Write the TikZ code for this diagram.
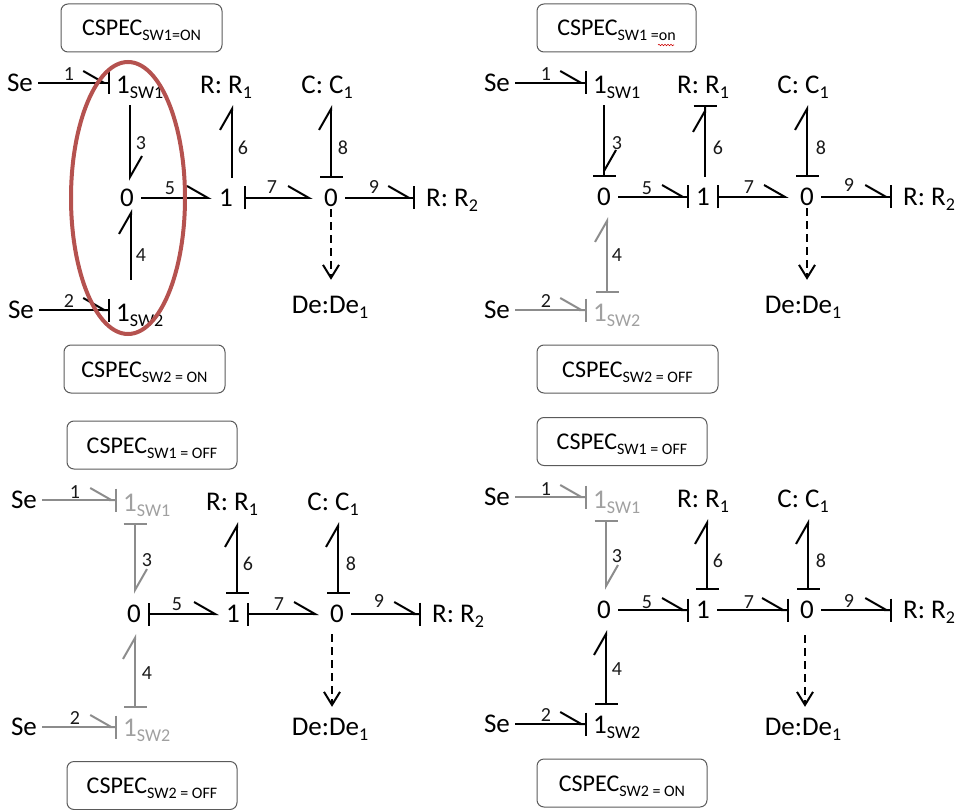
\documentclass[tikz,border=0pt]{standalone}
\usepackage{fontspec}
\setmainfont{Carlito}
\usetikzlibrary{arrows.meta,decorations.pathmorphing}
\definecolor{offline}{HTML}{8C8C8C}
\definecolor{offtext}{HTML}{A0A0A0}
\definecolor{ringred}{HTML}{B5524F}
\definecolor{boxline}{HTML}{5A5A5A}
\def\subt#1{\raisebox{-5pt}{\fontsize{18}{18}\selectfont #1}}
\def\subb#1{\raisebox{-5pt}{\fontsize{16}{16}\selectfont #1}}
\def\barb{Straight Barb[harpoon,length=21pt,width=24pt]}
\def\stroke{Bar[width=23pt]}
\tikzset{
	element/.style={inner sep=0pt,text height=28.5pt,text depth=11.5pt,font=\fontsize{27}{27}\selectfont},
	source/.style={element,inner xsep=5pt},
	junction/.style={element,minimum width=28pt},
	switch/.style={element,anchor=west,inner xsep=6pt},
	resist/.style={element,anchor=west,inner xsep=11pt},
	num/.style={inner sep=0pt,text=black!90,font=\fontsize{20}{20}\selectfont},
	cspec/.style={draw=boxline,line width=1pt,rounded corners=7pt,minimum height=48pt,inner sep=0pt,
		text height=20pt,text depth=4pt,font=\fontsize{24}{24}\selectfont},
	bond/.style={line width=2pt,-{\barb}},
	bondend/.style={line width=2pt,-{\barb\stroke}},
	bondstart/.style={line width=2pt,{\stroke}-{\barb}},
	detect/.style={line width=2pt,dash pattern=on 8pt off 5pt,-{Straight Barb[length=13pt,width=16pt]}},
	off/.style={draw=offline},
	offnode/.style={text=offtext}
}
\begin{document}
\begin{tikzpicture}[x=1pt,y=-1pt]
	\useasboundingbox (0,0) rectangle (963,810);

	% Both switches on
	\begin{scope}[name prefix=a-]
		\node[cspec,minimum width=161pt] (top) at (141.5,28) {CSPEC\subb{SW1=ON}};
		\node[cspec,minimum width=161pt] (bottom) at (144.5,369) {CSPEC\subb{SW2 = ON}};
		\node[source] (se1) at (20,83) {Se};
		\node[source] (se2) at (21,310) {Se};
		\node[switch] (sw1) at (110,85) {1\subt{SW1}};
		\node[switch] (sw2) at (110,313) {1\subt{SW2}};
		\node[junction] (zeroa) at (127,198) {0};
		\node[junction] (one) at (226,198) {1};
		\node[junction] (zerob) at (331,198) {0};
		\node[element] (r1) at (226,85) {R: R\subt{1}};
		\node[element] (c1) at (327,85) {C: C\subt{1}};
		\node[resist] (r2) at (415,198) {R: R\subt{2}};
		\node[element] (de) at (330,305) {De:De\subt{1}};
		% Bonds
		\draw[bondend] (se1.east) -- (se1.east -| sw1.west);
		\draw[bondend] (se2.east) -- (se2.east -| sw2.west);
		\draw[bond,shorten >=-3pt] ([xshift=3pt]zeroa.north |- sw1.south) -- ([xshift=3pt]zeroa.north);
		\draw[bond,shorten <=13pt,shorten >=-9pt] ([xshift=4pt]zeroa.south |- sw2.north) -- ([xshift=4pt]zeroa.south);
		\draw[bond] (zeroa.east) -- (one.west);
		\draw[bond] ([xshift=6pt]one.north) -- ([xshift=6pt]one.north |- r1.south);
		\draw[bondstart,shorten <=4pt,shorten >=4pt] (one.east) -- (zerob.west);
		\draw[bondstart] (zerob.north) -- (zerob.north |- c1.south);
		\draw[bondend] (zerob.east) -- (zerob.east -| r2.west);
		\draw[detect,shorten <=-9pt,shorten >=5pt] (zerob.south) -- (zerob.south |- de.north);
		% Bond numbers
		\node[num] (n1) at (69,74) {1};
		\node[num] (n2) at (69,301) {2};
		\node[num] (n3) at (141,143) {3};
		\node[num] (n4) at (141,255) {4};
		\node[num] (n5) at (170,188) {5};
		\node[num] (n6) at (243,148) {6};
		\node[num] (n7) at (272,187) {7};
		\node[num] (n8) at (343,148) {8};
		\node[num] (n9) at (374,187) {9};
		% Ring
		\draw[ringred,line width=4pt] (128,198) ellipse [x radius=57,y radius=136];
	\end{scope}

	% Switch 1 on, switch 2 off
	\begin{scope}[name prefix=b-]
		\node[cspec,minimum width=159pt] (top) at (616.5,28) {CSPEC\subb{SW1 =on}};
		\node[cspec,minimum width=181pt] (bottom) at (627.5,369) {CSPEC\subb{SW2 = OFF}};
		\draw[red!80!black,line width=0.6pt,decorate,decoration={snake,amplitude=0.7pt,segment length=3pt}] (658,45) -- (674,45);
		\node[source] (se1) at (497,83) {Se};
		\node[source] (se2) at (497,310) {Se};
		\node[switch] (sw1) at (587,85) {1\subt{SW1}};
		\node[switch,offnode] (sw2) at (587,313) {1\subt{SW2}};
		\node[junction] (zeroa) at (604,197) {0};
		\node[junction] (one) at (703,197) {1};
		\node[junction] (zerob) at (807,197) {0};
		\node[element] (r1) at (703,85) {R: R\subt{1}};
		\node[element] (c1) at (803,85) {C: C\subt{1}};
		\node[resist] (r2) at (892,197) {R: R\subt{2}};
		\node[element] (de) at (803,305) {De:De\subt{1}};
		% Bonds
		\draw[bondend] (se1.east) -- (se1.east -| sw1.west);
		\draw[bondend,off] (se2.east) -- (se2.east -| sw2.west);
		\draw[bondend] (zeroa.north |- sw1.south) -- (zeroa.north);
		\draw[bondstart,off] ([xshift=3pt]zeroa.south |- sw2.north) -- ([xshift=3pt]zeroa.south);
		\draw[bondend] (zeroa.east) -- (one.west);
		\draw[bondend] ([xshift=2pt]one.north) -- ([xshift=2pt]one.north |- r1.south);
		\draw[bondstart,shorten >=4pt] (one.east) -- (zerob.west);
		\draw[bondstart] (zerob.north) -- (zerob.north |- c1.south);
		\draw[bondend] (zerob.east) -- (zerob.east -| r2.west);
		\draw[detect,shorten <=-9pt,shorten >=5pt] (zerob.south) -- (zerob.south |- de.north);
		% Bond numbers
		\node[num] (n1) at (546,74) {1};
		\node[num] (n2) at (546,301) {2};
		\node[num] (n3) at (617,143) {3};
		\node[num] (n4) at (617,255) {4};
		\node[num] (n5) at (647,188) {5};
		\node[num] (n6) at (718,148) {6};
		\node[num] (n7) at (749,187) {7};
		\node[num] (n8) at (821,148) {8};
		\node[num] (n9) at (849,185) {9};
	\end{scope}

	% Both switches off
	\begin{scope}[name prefix=c-]
		\node[cspec,minimum width=170pt] (top) at (152,445) {CSPEC\subb{SW1 = OFF}};
		\node[cspec,minimum width=170pt] (bottom) at (152,785.5) {CSPEC\subb{SW2 = OFF}};
		\node[source] (se1) at (24,500) {Se};
		\node[source] (se2) at (24,727) {Se};
		\node[switch,offnode] (sw1) at (117,503) {1\subt{SW1}};
		\node[switch,offnode] (sw2) at (117,728) {1\subt{SW2}};
		\node[junction] (zeroa) at (134,614) {0};
		\node[junction] (one) at (233,614) {1};
		\node[junction] (zerob) at (337,614) {0};
		\node[element] (r1) at (232,502) {R: R\subt{1}};
		\node[element] (c1) at (333,502) {C: C\subt{1}};
		\node[resist] (r2) at (421,614) {R: R\subt{2}};
		\node[element] (de) at (330,727) {De:De\subt{1}};
		% Bonds
		\draw[bondend,off] (se1.east) -- (se1.east -| sw1.west);
		\draw[bondend,off] (se2.east) -- (se2.east -| sw2.west);
		\draw[bondstart,off] ([xshift=1pt]zeroa.north |- sw1.south) -- ([xshift=1pt]zeroa.north);
		\draw[bondstart,off] ([xshift=1pt]zeroa.south |- sw2.north) -- ([xshift=1pt]zeroa.south);
		\draw[bondstart] (zeroa.east) -- (one.west);
		\draw[bondstart] ([xshift=4pt]one.north) -- ([xshift=4pt]one.north |- r1.south);
		\draw[bondstart,shorten >=4pt] (one.east) -- (zerob.west);
		\draw[bondstart] ([xshift=1pt]zerob.north) -- ([xshift=1pt]zerob.north |- c1.south);
		\draw[bondend] (zerob.east) -- (zerob.east -| r2.west);
		\draw[detect] ([xshift=-5pt]zerob.south) -- ([xshift=-5pt]zerob.south |- de.north);
		% Bond numbers
		\node[num] (n1) at (75,492) {1};
		\node[num] (n2) at (75,718) {2};
		\node[num] (n3) at (147,560) {3};
		\node[num] (n4) at (147,673) {4};
		\node[num] (n5) at (177,604) {5};
		\node[num] (n6) at (248,564) {6};
		\node[num] (n7) at (279,604) {7};
		\node[num] (n8) at (351,564) {8};
		\node[num] (n9) at (379,601) {9};
	\end{scope}

	% Switch 1 off, switch 2 on
	\begin{scope}[name prefix=d-]
		\node[cspec,minimum width=170pt] (top) at (622,441.5) {CSPEC\subb{SW1 = OFF}};
		\node[cspec,minimum width=170pt] (bottom) at (622,783) {CSPEC\subb{SW2 = ON}};
		\node[source] (se1) at (497,497) {Se};
		\node[source] (se2) at (497,724) {Se};
		\node[switch,offnode] (sw1) at (587,500) {1\subt{SW1}};
		\node[switch] (sw2) at (587,725) {1\subt{SW2}};
		\node[junction] (zeroa) at (604,610) {0};
		\node[junction] (one) at (703,610) {1};
		\node[junction] (zerob) at (807,610) {0};
		\node[element] (r1) at (703,499) {R: R\subt{1}};
		\node[element] (c1) at (803,499) {C: C\subt{1}};
		\node[resist] (r2) at (892,610) {R: R\subt{2}};
		\node[element] (de) at (803,727) {De:De\subt{1}};
		% Bonds
		\draw[bondend,off] (se1.east) -- (se1.east -| sw1.west);
		\draw[bondend] (se2.east) -- (se2.east -| sw2.west);
		\draw[bondstart,off] ([xshift=2pt]zeroa.north |- sw1.south) -- ([xshift=2pt]zeroa.north);
		\draw[bondstart] ([xshift=2pt]zeroa.south |- sw2.north) -- ([xshift=2pt]zeroa.south);
		\draw[bondend] (zeroa.east) -- (one.west);
		\draw[bondstart] ([xshift=4pt]one.north) -- ([xshift=4pt]one.north |- r1.south);
		\draw[bondend,shorten >=4pt] (one.east) -- (zerob.west);
		\draw[bondstart] ([xshift=1pt]zerob.north) -- ([xshift=1pt]zerob.north |- c1.south);
		\draw[bondend] (zerob.east) -- (zerob.east -| r2.west);
		\draw[detect,shorten <=5pt] ([xshift=-2pt]zerob.south) -- ([xshift=-2pt]zerob.south |- de.north);
		% Bond numbers
		\node[num] (n1) at (546,489) {1};
		\node[num] (n2) at (546,715) {2};
		\node[num] (n3) at (617,556) {3};
		\node[num] (n4) at (617,669) {4};
		\node[num] (n5) at (647,602) {5};
		\node[num] (n6) at (718,561) {6};
		\node[num] (n7) at (749,602) {7};
		\node[num] (n8) at (821,561) {8};
		\node[num] (n9) at (849,601) {9};
	\end{scope}
\end{tikzpicture}
\end{document}
